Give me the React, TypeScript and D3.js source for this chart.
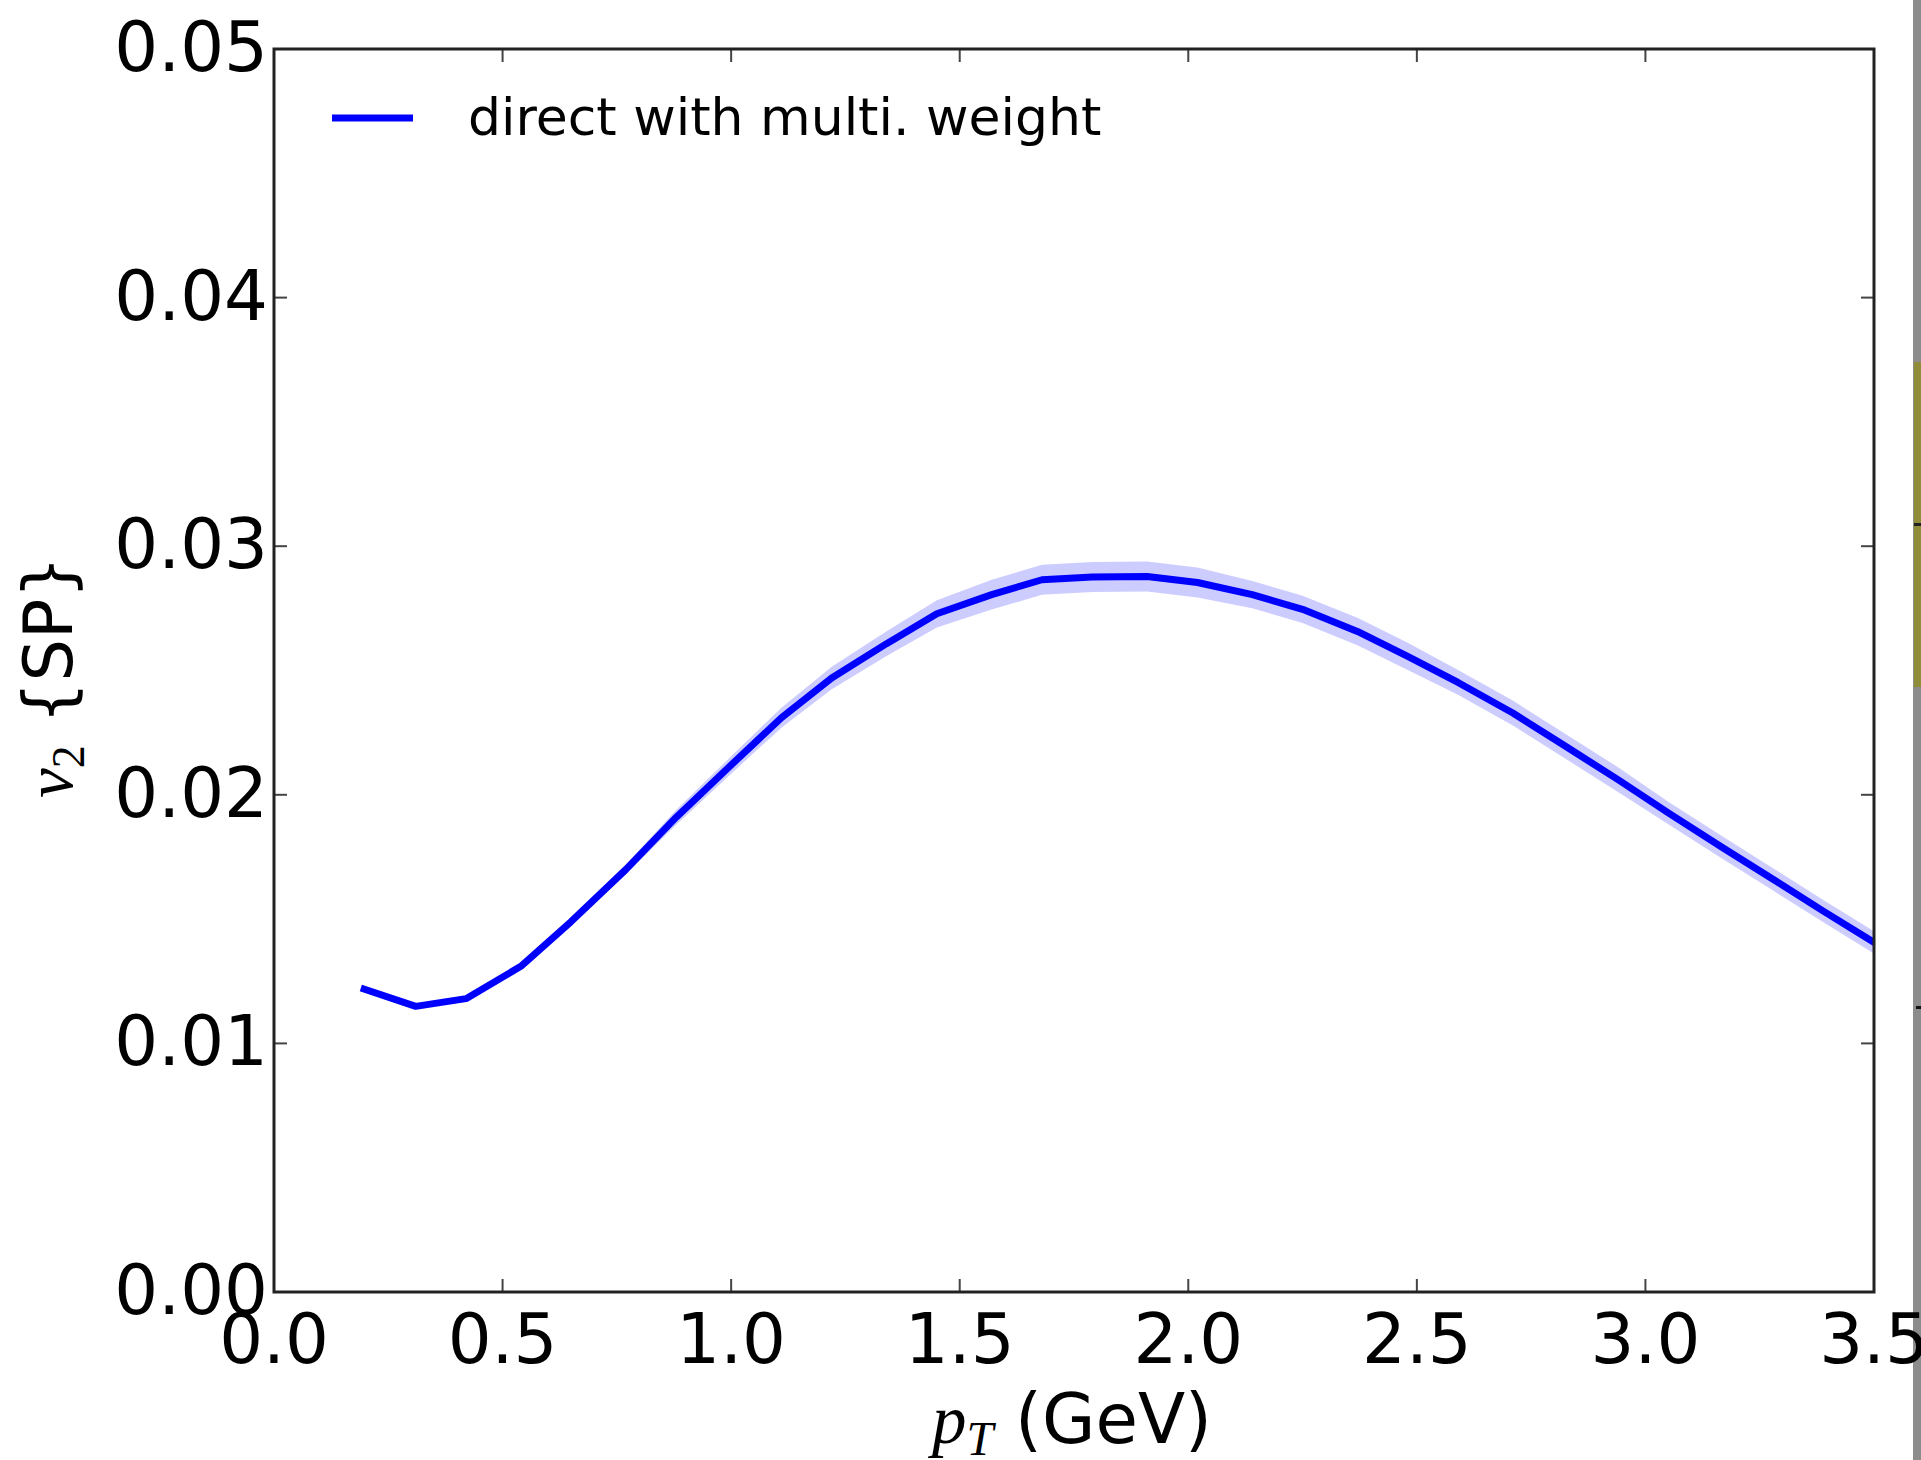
import React from "react";
import * as d3 from "d3";

// ---- data ----
const PT = [0.19, 0.31, 0.42, 0.54, 0.65, 0.77, 0.88, 1.0, 1.11, 1.22, 1.34, 1.45, 1.57, 1.68, 1.79, 1.91, 2.02, 2.14, 2.25, 2.37, 2.48, 2.59, 2.71, 2.82, 2.94, 3.05, 3.17, 3.28, 3.39, 3.51];
const V2 = [0.01223, 0.01149, 0.0118, 0.0131, 0.0149, 0.0170, 0.0191, 0.0212, 0.0231, 0.0247, 0.02608, 0.02728, 0.02805, 0.02865, 0.02876, 0.02878, 0.02854, 0.02805, 0.02746, 0.02657, 0.02557, 0.02452, 0.02329, 0.02201, 0.02061, 0.01927, 0.01786, 0.01659, 0.01531, 0.01395];
const V2_ERR = [0.0001, 0.0001, 0.0001, 0.0001, 0.00015, 0.0002, 0.0003, 0.00035, 0.0004, 0.00045, 0.0005, 0.00055, 0.0006, 0.0006, 0.0006, 0.0006, 0.0006, 0.00055, 0.00055, 0.00055, 0.00055, 0.0005, 0.0005, 0.0005, 0.0005, 0.00045, 0.00045, 0.00045, 0.00045, 0.00045];
const X_TICKS = [0, 0.5, 1.0, 1.5, 2.0, 2.5, 3.0, 3.5];
const Y_TICKS = [0, 0.01, 0.02, 0.03, 0.04, 0.05];
const LEGEND_LABEL = "direct with multi. weight";

const W = 1921;
const H = 1460;
const M = { left: 274, right: 1874, top: 49, bottom: 1292 };
const SANS = "'DejaVu Sans', sans-serif";
const SERIF = "'Liberation Serif', 'DejaVu Serif', serif";
const TICK_FS = 69;

export default function App() {
  const x = d3.scaleLinear().domain([0, 3.5]).range([M.left, M.right]);
  const y = d3.scaleLinear().domain([0, 0.05]).range([M.bottom, M.top]);
  const pts = PT.map((p, i) => ({ p, v: V2[i], e: V2_ERR[i] }));
  const line = d3.line<any>().x((d) => x(d.p)).y((d) => y(d.v));
  const area = d3
    .area<any>()
    .x((d) => x(d.p))
    .y0((d) => y(d.v - d.e))
    .y1((d) => y(d.v + d.e));
  const tickLen = 13;

  return (
    <svg
      width={W}
      height={H}
      style={{ position: "absolute", left: 0, top: 0, background: "#fff" }}
    >
      <rect x={0} y={0} width={W} height={H} fill="#fff" />
      <defs>
        <clipPath id="plotclip">
          <rect x={M.left} y={M.top} width={M.right - M.left} height={M.bottom - M.top} />
        </clipPath>
      </defs>

      {/* neighbouring panel edge */}
      <rect x={1913} y={0} width={8} height={H} fill="#8c8c8c" />
      <rect x={1914} y={362} width={7} height={325} fill="#8f8d3a" />
      <rect x={1914} y={523} width={7} height={3} fill="#222" />
      <rect x={1916} y={1006} width={5} height={3} fill="#111" />

      <g clipPath="url(#plotclip)">
        <path d={area(pts) || ""} fill="#0000ff" fillOpacity={0.2} stroke="none" />
        <path d={line(pts) || ""} fill="none" stroke="#0000ff" strokeWidth={7} strokeLinejoin="round" />
      </g>

      {/* ticks */}
      {X_TICKS.map((t) => (
        <g key={"xt" + t}>
          <line x1={x(t)} x2={x(t)} y1={M.bottom} y2={M.bottom - tickLen} stroke="#444" strokeWidth={2} />
          <line x1={x(t)} x2={x(t)} y1={M.top} y2={M.top + tickLen} stroke="#444" strokeWidth={2} />
          <text
            x={x(t)}
            y={M.bottom + 71}
            fontFamily={SANS}
            fontSize={TICK_FS}
            textAnchor="middle"
            fill="#000"
          >
            {t.toFixed(1)}
          </text>
        </g>
      ))}
      {Y_TICKS.map((t) => (
        <g key={"yt" + t}>
          <line x1={M.left} x2={M.left + tickLen} y1={y(t)} y2={y(t)} stroke="#444" strokeWidth={2} />
          <line x1={M.right} x2={M.right - tickLen} y1={y(t)} y2={y(t)} stroke="#444" strokeWidth={2} />
          <text
            x={268}
            y={y(t) + 22}
            fontFamily={SANS}
            fontSize={TICK_FS}
            textAnchor="end"
            fill="#000"
          >
            {t.toFixed(2)}
          </text>
        </g>
      ))}

      {/* frame */}
      <rect
        x={M.left}
        y={M.top}
        width={M.right - M.left}
        height={M.bottom - M.top}
        fill="none"
        stroke="#222"
        strokeWidth={3}
      />

      {/* legend */}
      <line x1={332} x2={413} y1={118} y2={118} stroke="#0000ff" strokeWidth={7} />
      <text x={468} y={135} fontFamily={SANS} fontSize={52} fill="#000">
        {LEGEND_LABEL}
      </text>

      {/* x label */}
      <text x={1072} y={1443} textAnchor="middle" fontSize={69} fill="#000">
        <tspan fontFamily={SERIF} fontStyle="italic">p</tspan>
        <tspan fontFamily={SERIF} fontStyle="italic" fontSize={48} dy={12}>T</tspan>
        <tspan fontFamily={SANS} dy={-12}>{" (GeV)"}</tspan>
      </text>

      {/* y label */}
      <text
        transform="translate(72,677) rotate(-90)"
        textAnchor="middle"
        fontSize={67}
        fill="#000"
      >
        <tspan fontFamily={SERIF} fontStyle="italic">v</tspan>
        <tspan fontFamily={SERIF} fontSize={46} dy={12}>2</tspan>
        <tspan fontFamily={SANS} dy={-12}>{"  {SP}"}</tspan>
      </text>
    </svg>
  );
}
